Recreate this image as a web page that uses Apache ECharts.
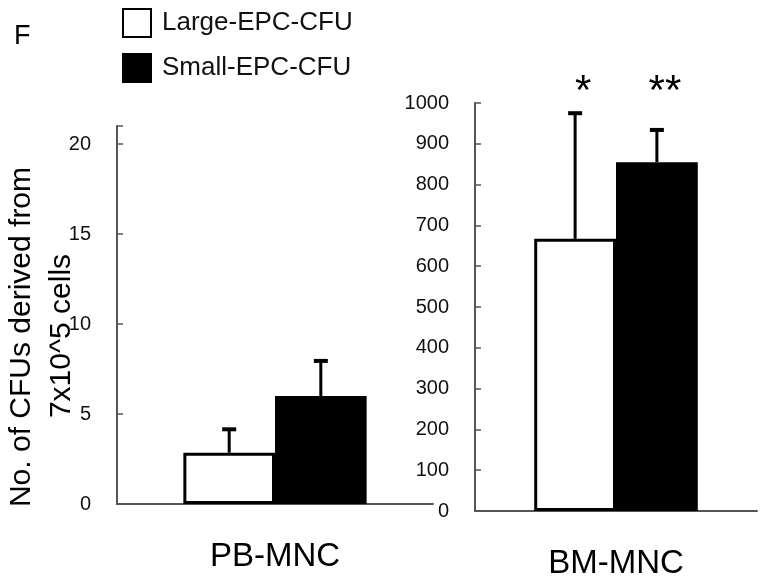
<!DOCTYPE html>
<html>
<head>
<meta charset="utf-8">
<script src="https://cdn.jsdelivr.net/npm/echarts@6/dist/echarts.min.js"></script>
<style>
  html, body { margin: 0; padding: 0; background: #fff; }
  #chart { width: 764px; height: 584px; }
</style>
</head>
<body>
<div id="chart"></div>
<script>
// data
const seriesNames = ['Large-EPC-CFU', 'Small-EPC-CFU'];
const pbCategory = ['PB-MNC'];
const bmCategory = ['BM-MNC'];
const pbMean = [2.85, 6.0];
const pbSd = [1.3, 1.95];
const bmMean = [667, 855];
const bmSd = [308, 79];
const bmMarks = ['*', '**'];
const barColors = ['#ffffff', '#000000'];
const yTitle = ['No. of CFUs derived from', '7x10^5 cells'];

const font = 'Liberation Sans, Arial, sans-serif';
const chart = echarts.init(document.getElementById('chart'));

// error bar (upper half only) + optional significance mark
function errorBar(params, api) {
  const band = api.size([1, 0])[0];
  const k = api.value(3);
  const off = (k === 0 ? -1 : 1) * band * 0.145;
  const base = api.coord([api.value(0), api.value(1)]);
  const top = api.coord([api.value(0), api.value(1) + api.value(2)]);
  const x = base[0] + off;
  const children = [
    { type: 'line', shape: { x1: x, y1: base[1], x2: x, y2: top[1] },
      style: { stroke: '#000', lineWidth: 3 } },
    { type: 'line', shape: { x1: x - 7, y1: top[1], x2: x + 7, y2: top[1] },
      style: { stroke: '#000', lineWidth: 4 } }
  ];
  const mark = params.seriesId === 'bmErr' ? bmMarks[k] : '';
  if (mark) {
    const p = api.coord([api.value(0), 1030]);
    children.push({
      type: 'text',
      style: { text: mark, x: x + 8, y: p[1] + 2, align: 'center', verticalAlign: 'middle',
        font: '42px ' + font, fill: '#000' }
    });
  }
  return { type: 'group', children };
}

const axisLineStyle = { color: '#555', width: 2 };

function yAxisCfg(idx, max, interval) {
  return {
    type: 'value', gridIndex: idx, min: 0, max, interval,
    splitLine: { show: false },
    axisLine: { show: true, lineStyle: axisLineStyle },
    axisTick: { show: true, inside: true, length: 6, lineStyle: { color: '#555', width: 1.5 } },
    axisLabel: {
      margin: 26, fontSize: 20, color: '#111', fontFamily: font,
      formatter: v => (v % interval === 0 ? String(v) : '')
    }
  };
}

function xAxisCfg(idx, cats) {
  return {
    type: 'category', gridIndex: idx, data: cats,
    axisLine: { lineStyle: axisLineStyle },
    axisTick: { show: false },
    axisLabel: { margin: 36, fontSize: 33, color: '#000', fontFamily: font }
  };
}

const series = [];
seriesNames.forEach((name, i) => {
  series.push({
    name, type: 'bar', xAxisIndex: 0, yAxisIndex: 0,
    data: [pbMean[i]], barGap: '0%', barCategoryGap: '42%',
    itemStyle: { color: barColors[i], borderColor: '#000', borderWidth: 3 }
  });
});
seriesNames.forEach((name, i) => {
  series.push({
    name, type: 'bar', xAxisIndex: 1, yAxisIndex: 1,
    data: [bmMean[i]], barGap: '0%', barCategoryGap: '42%',
    itemStyle: { color: barColors[i], borderColor: '#000', borderWidth: 3 }
  });
});
series.push({
  id: 'pbErr', type: 'custom', xAxisIndex: 0, yAxisIndex: 0, clip: false, z: 5,
  renderItem: errorBar,
  data: seriesNames.map((n, i) => [0, pbMean[i], pbSd[i], i])
});
series.push({
  id: 'bmErr', type: 'custom', xAxisIndex: 1, yAxisIndex: 1, clip: false, z: 5,
  renderItem: errorBar,
  data: seriesNames.map((n, i) => [0, bmMean[i], bmSd[i], i])
});

chart.setOption({
  backgroundColor: '#fff',
  animation: false,
  legend: {
    orient: 'vertical', left: 122, top: 8, padding: 0,
    itemWidth: 28, itemHeight: 28, itemGap: 15, icon: 'rect',
    data: seriesNames,
    textStyle: { fontSize: 26, color: '#111', fontFamily: font, padding: [0, 0, 0, 6] }
  },
  graphic: [
    { type: 'text', left: 14, top: 23, style: { text: 'F', font: '27px ' + font, fill: '#000' } },
    { type: 'text', x: 22, y: 337, rotation: Math.PI / 2,
      style: { text: yTitle[0], font: '30px ' + font, fill: '#000', align: 'center', verticalAlign: 'middle' } },
    { type: 'text', x: 62, y: 336, rotation: Math.PI / 2,
      style: { text: yTitle[1], font: '30px ' + font, fill: '#000', align: 'center', verticalAlign: 'middle' } }
  ],
  grid: [
    { left: 117, right: 331, top: 126, bottom: 80 },
    { left: 475, right: 7, top: 103, bottom: 73 }
  ],
  xAxis: [xAxisCfg(0, pbCategory), xAxisCfg(1, bmCategory)],
  yAxis: [yAxisCfg(0, 21, 5), yAxisCfg(1, 1000, 100)],
  series
});
</script>
</body>
</html>
